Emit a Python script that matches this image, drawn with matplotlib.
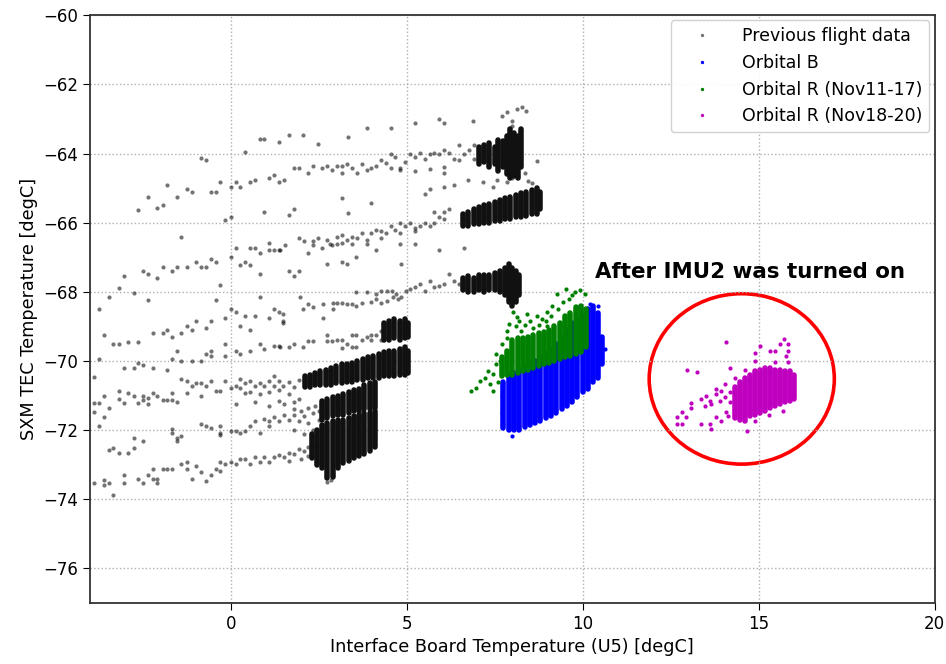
import numpy as np
import matplotlib.pyplot as plt
from matplotlib.patches import Ellipse

# ---- previous flight data: scattered readings (x = U5 temp, y = TEC temp)
prev_top = [
    (-2.63, -65.63), (-2.36, -65.25), (-2.08, -65.57), (-1.93, -65.5), (-1.80, -64.9),
    (-1.53, -65.25), (-1.40, -66.4), (-1.25, -65.03), (-1.11, -65.1), (-0.85, -64.14),
    (-0.70, -64.2), (-0.56, -65.1), (-0.43, -65.1), (-0.29, -64.83), (-0.15, -65.91),
    (0.0, -65.85), (0.0, -64.98), (0.14, -64.83), (0.27, -64.98), (0.40, -63.95),
    (0.55, -64.83), (0.69, -64.76), (0.82, -63.59), (0.95, -63.59), (0.95, -65.7),
    (1.09, -64.70), (1.23, -64.63), (1.37, -64.83), (1.51, -64.76), (1.37, -63.67),
    (1.66, -63.45), (2.05, -63.45), (2.47, -63.72), (3.32, -63.53), (3.86, -63.26),
    (4.55, -63.26), (5.24, -63.12), (5.93, -62.99), (6.07, -63.12), (6.89, -63.06),
    (7.72, -62.92), (7.86, -62.79), (8.14, -62.71), (8.27, -62.64), (8.40, -62.77),
    (8.0, -63.06), (8.0, -63.19),
    (1.80, -64.41), (1.94, -64.41), (2.20, -64.55), (2.34, -64.35), (2.60, -64.41),
    (2.75, -64.35), (2.89, -64.49), (3.02, -64.35), (3.16, -64.35), (3.16, -64.55),
    (3.30, -64.30), (3.45, -64.41), (3.58, -64.55), (3.72, -64.30), (3.86, -64.48),
    (4.0, -64.41), (4.13, -64.35), (4.27, -64.2), (4.40, -64.28), (4.55, -64.41),
    (4.55, -64.0), (4.68, -64.1), (4.82, -64.41), (4.82, -64.48), (4.95, -64.25),
    (5.10, -64.0), (5.24, -64.1), (5.24, -64.5), (5.37, -63.98), (5.51, -64.15),
    (5.65, -64.45), (5.65, -64.0), (5.79, -63.98), (5.93, -64.0), (6.07, -63.9),
    (6.07, -64.4), (6.07, -64.55), (6.20, -63.98), (6.34, -64.15), (6.48, -63.75),
    (6.48, -64.2), (6.62, -64.0), (6.76, -63.9), (6.90, -63.75), (6.90, -64.15),
    (3.15, -65.3), (4.0, -65.44), (3.32, -65.71), (1.66, -65.77), (1.80, -65.6),
    (5.52, -65.17), (5.65, -65.03), (6.07, -64.98), (6.34, -64.9), (6.75, -64.76),
    (7.17, -64.83), (7.44, -64.98), (7.58, -64.76), (7.86, -64.83), (7.99, -64.7),
    (8.69, -64.23), (8.35, -64.55), (8.55, -64.85), (8.45, -64.8),
]

prev_mid = [
    (-3.74, -68.5), (-3.47, -68.16), (-3.18, -67.9), (-3.04, -67.54), (-2.76, -68.04),
    (-2.49, -67.41), (-2.36, -67.48), (-2.36, -68.23), (-2.08, -67.61), (-1.93, -67.28),
    (-1.66, -67.41), (-1.53, -67.28), (-1.25, -67.28), (-0.98, -67.14), (-0.85, -67.28),
    (-0.70, -67.28), (-0.56, -67.06), (-0.42, -67.14), (-0.29, -67.81), (-0.42, -68.23),
    (0.0, -67.0), (0.14, -66.73), (0.27, -67.21), (0.40, -67.14), (0.55, -67.21),
    (0.69, -66.73), (0.82, -66.87), (0.82, -67.48), (1.09, -66.60), (1.09, -66.8),
    (1.23, -66.8), (1.37, -66.8), (0.82, -68.16), (0.55, -66.72),
    (1.53, -66.64), (1.94, -66.43), (2.07, -66.52), (2.34, -66.52), (2.34, -66.64),
    (2.48, -66.43), (2.6, -66.72), (2.75, -66.5), (2.89, -66.65), (3.02, -66.4),
    (3.16, -66.6), (3.16, -66.35), (3.30, -66.5), (3.45, -66.4), (3.58, -66.45),
    (3.72, -66.3), (3.86, -66.5), (4.0, -66.3), (4.13, -66.2), (4.27, -66.25),
    (4.27, -66.45), (4.40, -66.3), (4.55, -66.1), (4.68, -66.2), (4.82, -66.3),
    (4.82, -66.0), (4.95, -66.1), (5.10, -66.0), (5.24, -66.25), (5.24, -66.15),
    (5.37, -66.1), (5.51, -66.0), (5.65, -66.1), (5.79, -66.0), (5.79, -65.7),
    (5.93, -65.85), (6.07, -65.9), (6.07, -65.7), (6.2, -65.6),
    (1.40, -66.79), (1.66, -67.41), (1.80, -67.54), (1.94, -67.41), (2.20, -66.87),
    (2.75, -67.2), (3.17, -67.13), (3.30, -67.2), (3.57, -67.0), (4.12, -66.79),
    (4.83, -67.2), (2.82, -66.61), (3.03, -66.61), (3.44, -66.61), (3.86, -66.61),
    (4.81, -66.61), (5.24, -66.61), (5.93, -66.79), (6.62, -66.72),
    # band near -68 / -69
    (-3.74, -69.93), (-3.6, -69.25), (-3.33, -69.52), (-3.18, -69.52), (-2.91, -69.44),
    (-2.64, -69.44), (-3.04, -70.2), (-2.76, -70.2), (-2.63, -70.07), (-2.49, -70.13),
    (-2.21, -70.2), (-1.8, -70.26), (-2.21, -69.18), (-1.93, -69.18), (-1.8, -69.11),
    (-1.66, -69.31), (-1.4, -69.18), (-1.25, -68.98), (-1.11, -69.11), (-0.98, -68.84),
    (-0.70, -69.05), (-0.56, -68.84), (-0.15, -68.77), (0.0, -68.5), (0.14, -68.57),
    (0.27, -68.98), (0.40, -68.7), (0.55, -69.11), (0.69, -68.7), (1.09, -68.77),
    (1.23, -68.5), (1.37, -68.57), (1.49, -68.84), (1.49, -68.65), (1.49, -68.89),
    (3.57, -68.02), (3.86, -68.02), (4.14, -68.07), (4.28, -67.97), (4.43, -67.97),
    (4.57, -67.97), (4.69, -68.07), (4.83, -68.16), (4.97, -67.97), (5.10, -67.92),
    (5.24, -67.87), (5.38, -67.78), (5.52, -67.97), (5.65, -67.68), (5.79, -67.87),
    (5.92, -67.83), (6.07, -67.78), (6.21, -67.49), (6.34, -67.68), (6.48, -67.78),
    (1.97, -68.16), (2.20, -68.36), (2.34, -68.45), (2.06, -68.5), (2.61, -68.36),
    (2.61, -68.77), (2.91, -68.31), (3.03, -68.31), (3.17, -68.31), (2.91, -68.5),
    (3.30, -68.36), (3.44, -68.36), (3.57, -68.41), (3.72, -68.31), (4.0, -68.29),
    (4.14, -68.21), (4.28, -68.31), (4.43, -68.26), (4.62, -68.16), (4.76, -68.21),
    (-1.66, -69.93), (-1.53, -69.72), (-1.40, -70.0), (-1.11, -70.0), (-0.85, -70.0),
    (-0.7, -69.79), (-0.56, -69.72), (-0.56, -69.86), (-0.15, -69.86), (-0.15, -69.52),
    (0.14, -69.72), (0.27, -69.79), (0.55, -69.72), (0.82, -69.52), (0.95, -69.65),
    (1.23, -69.58), (1.37, -69.58), (1.40, -69.61), (1.66, -69.61), (1.80, -69.52),
    (2.06, -69.59), (2.20, -69.42), (2.34, -69.42), (2.75, -69.26), (2.75, -69.42),
    (2.89, -69.42), (3.03, -69.39), (3.17, -69.39), (3.17, -69.64), (3.30, -69.52),
    (3.44, -69.59), (3.44, -69.26), (3.57, -69.59), (3.57, -69.26), (3.72, -69.39),
    (3.86, -69.32), (4.0, -69.39), (4.0, -69.26), (4.14, -69.26), (4.27, -69.13),
    (4.27, -69.39),
]

prev_low = [
    (-3.87, -70.46), (-3.74, -71.21), (-3.87, -71.21), (-3.6, -71.0), (-3.46, -71.35),
    (-3.18, -70.87), (-3.18, -71.11), (-3.04, -71.21), (-2.91, -70.94), (-2.76, -71.0),
    (-2.63, -71.21), (-2.49, -71.0), (-2.49, -71.14), (-2.36, -71.07), (-2.36, -71.25),
    (-2.21, -70.94), (-2.08, -71.0), (-1.93, -71.14), (-1.8, -71.14),
    (-1.66, -70.93), (-1.66, -71.13), (-1.53, -71.2), (-1.40, -70.52), (-1.25, -70.57),
    (-1.25, -70.93), (-1.11, -70.72), (-0.98, -70.65), (-0.85, -70.65), (-0.85, -71.0),
    (-0.70, -70.72), (-0.56, -70.59), (-0.42, -70.86), (-0.29, -70.86), (-0.15, -70.59),
    (0.0, -70.79), (0.14, -70.72), (0.27, -70.52), (0.27, -70.79), (0.40, -70.65),
    (0.40, -70.93), (0.55, -70.59), (0.69, -70.72), (0.82, -70.65), (0.95, -70.72),
    (1.09, -70.59), (1.23, -70.72), (1.23, -70.43), (1.37, -70.59), (1.49, -70.72),
    (0.14, -71.25), (0.69, -71.2), (1.09, -71.3), (1.37, -71.15), (1.51, -71.25),
    (0.55, -70.9), (0.82, -70.95), (1.09, -70.9), (1.37, -70.85), (1.66, -70.6),
    (1.8, -70.75), (1.94, -70.55), (1.66, -70.95), (1.94, -71.1), (1.8, -71.2),
    (-3.46, -72.58), (-3.33, -72.51), (-3.18, -72.65), (-2.91, -72.65), (-2.76, -72.51),
    (-2.76, -72.24), (-2.49, -72.32), (-3.74, -71.89), (-3.87, -71.49), (-3.6, -71.61),
    (-1.66, -71.96), (-1.66, -72.09), (-1.53, -72.24), (-1.53, -72.32), (-1.40, -72.16),
    (-0.85, -71.83), (-0.70, -71.89), (-0.56, -71.95), (-0.29, -71.89), (-0.29, -72.09),
    (-0.29, -72.15), (0.0, -72.02), (0.14, -72.02), (0.27, -72.09), (0.40, -72.02),
    (0.55, -71.89), (0.69, -71.75), (0.82, -72.09), (0.95, -71.68), (1.09, -71.89),
    (1.09, -71.75), (1.23, -71.61), (1.37, -71.75), (1.51, -71.55),
    (1.66, -71.7), (1.8, -71.55), (1.94, -71.75), (2.07, -71.6), (2.2, -71.8),
    (2.34, -71.5), (2.5, -71.7), (2.6, -71.55), (1.8, -72.0), (2.07, -72.1), (2.34, -72.0),
    (1.8, -71.4), (2.0, -71.45), (2.2, -71.35), (2.4, -71.3), (2.5, -71.45),
    (-3.87, -73.52), (-3.6, -73.45), (-3.6, -73.58), (-3.46, -73.52), (-3.33, -73.88),
    (-3.04, -73.31), (-3.04, -73.52), (-2.63, -73.41), (-2.49, -73.52), (-2.36, -73.31),
    (-2.21, -73.12), (-2.21, -73.41), (-2.08, -73.41), (-2.08, -73.52), (-1.93, -73.12),
    (-1.8, -73.12), (-1.66, -73.12), (-1.40, -72.99), (-1.25, -72.92), (-1.25, -73.12),
    (-1.11, -73.41), (-0.98, -73.05), (-0.85, -73.21), (-0.70, -73.48), (-0.56, -73.31),
    (-0.42, -73.12), (-0.29, -72.92), (-0.29, -73.19), (-0.15, -72.99), (0.0, -72.92),
    (0.14, -72.99), (0.27, -72.85), (0.40, -72.85), (0.55, -72.99), (0.69, -72.79),
    (0.82, -72.92), (0.95, -72.79), (1.09, -72.92), (1.23, -72.79), (1.37, -72.72),
    (1.51, -72.79), (1.66, -72.65), (1.8, -72.7), (1.94, -72.55), (2.07, -72.6),
    (2.2, -72.5), (2.34, -72.45), (1.66, -72.9), (2.0, -72.85), (2.2, -72.75),
    (2.75, -73.5), (2.85, -73.45),
]

# dense vertical streaks of previous data: x, upper and lower y
prev_col_x = [7.05, 7.2, 7.35, 7.5, 7.6, 7.75, 7.85, 7.95, 8.05, 8.15, 8.25,
              6.6, 6.75, 6.9, 7.05, 7.2, 7.35, 7.5, 7.65, 7.8, 7.95, 8.1, 8.25, 8.4, 8.55, 8.7, 8.8,
              6.6, 6.75, 6.9, 7.05, 7.2, 7.35, 7.5, 7.65, 7.8, 7.9, 8.0, 8.1, 8.2,
              4.35, 4.5, 4.65, 4.8, 4.95, 5.05,
              2.1, 2.25, 2.4, 2.55, 2.7, 2.85, 3.0, 3.15, 3.3, 3.45, 3.6, 3.75, 3.9, 4.05,
              4.2, 4.35, 4.5, 4.65, 4.8, 4.95, 5.05,
              2.6, 2.75, 2.9, 3.05, 3.2, 3.35, 3.5, 3.65, 3.8, 3.95, 4.1,
              2.3, 2.45, 2.6, 2.75, 2.9, 3.05, 3.2, 3.35, 3.5, 3.65, 3.8, 3.95, 4.1]
prev_col_hi = [-63.8, -63.75, -63.7, -63.8, -63.6, -63.65, -63.5, -63.3, -63.4, -63.5, -63.3,
               -65.75, -65.7, -65.6, -65.55, -65.5, -65.45, -65.4, -65.35, -65.3, -65.25, -65.2,
               -65.15, -65.1, -65.05, -65.0, -65.1,
               -67.6, -67.55, -67.6, -67.5, -67.5, -67.5, -67.45, -67.4, -67.3, -67.2, -67.3,
               -67.4, -67.5,
               -68.9, -68.85, -68.8, -68.85, -68.8, -68.9,
               -70.45, -70.4, -70.35, -70.3, -70.25, -70.2, -70.15, -70.1, -70.1, -70.05, -70.0,
               -69.95, -69.9, -69.85, -69.8, -69.75, -69.7, -69.7, -69.65, -69.6, -69.7,
               -71.15, -71.1, -71.05, -71.0, -70.95, -70.9, -70.85, -70.8, -70.7, -70.65, -70.6,
               -72.1, -72.0, -71.85, -71.8, -71.75, -71.7, -71.7, -71.65, -71.6, -71.55, -71.5,
               -71.5, -71.45]
prev_col_lo = [-64.3, -64.25, -64.4, -64.3, -64.5, -64.4, -64.6, -64.7, -64.65, -64.7, -64.4,
               -66.1, -66.1, -66.05, -66.05, -66.0, -66.0, -65.95, -65.95, -65.9, -65.9, -65.85,
               -65.85, -65.8, -65.75, -65.75, -65.6,
               -67.95, -68.0, -68.0, -67.95, -68.0, -67.95, -67.95, -68.0, -68.1, -68.3, -68.4,
               -68.3, -68.1,
               -69.4, -69.4, -69.35, -69.4, -69.35, -69.3,
               -70.75, -70.75, -70.7, -70.7, -70.7, -70.7, -70.65, -70.65, -70.6, -70.6, -70.55,
               -70.55, -70.5, -70.5, -70.5, -70.45, -70.45, -70.45, -70.4, -70.4, -70.35,
               -71.7, -71.65, -71.6, -71.55, -71.55, -71.5, -71.45, -71.45, -71.4, -71.4, -71.35,
               -72.8, -73.0, -73.1, -73.4, -73.35, -73.1, -72.95, -72.9, -72.8, -72.75, -72.7,
               -72.6, -72.5]

# ---- Orbital B
orb_b_pts = [(7.98, -72.17), (10.63, -69.65), (10.2, -68.35), (9.9, -68.45), (10.45, -68.4),
             (7.7, -71.5), (7.7, -71.0)]
orb_b_col_x = [7.75, 7.9, 8.05, 8.2, 8.35, 8.5, 8.65, 8.8, 8.95, 9.1, 9.25, 9.4, 9.55,
               9.7, 9.85, 10.0, 10.15, 10.3, 10.45, 10.55]
orb_b_col_hi = [-70.6, -70.45, -70.35, -70.3, -70.2, -70.1, -70.0, -69.9, -69.8, -69.65,
                -69.5, -69.3, -69.1, -68.9, -68.8, -68.7, -68.5, -68.4, -68.6, -69.3]
orb_b_col_lo = [-71.95, -72.0, -72.0, -72.0, -71.9, -71.85, -71.8, -71.75, -71.65, -71.6,
                -71.5, -71.4, -71.3, -71.2, -71.05, -70.9, -70.8, -70.6, -70.5, -70.1]

# ---- Orbital R (Nov11-17)
orb_r1_pts = [
    (6.84, -70.87), (6.98, -70.77), (7.07, -70.57), (7.22, -70.48), (7.36, -70.67),
    (7.46, -70.38), (7.55, -69.8), (7.55, -70.09), (7.65, -69.99), (7.46, -70.86),
    (7.84, -69.12), (8.03, -68.59), (8.13, -68.74), (8.41, -68.65), (8.5, -68.84),
    (8.69, -68.69), (8.84, -68.79), (8.98, -68.59), (9.12, -68.4), (9.26, -68.06),
    (9.52, -67.91), (9.78, -68.01), (9.92, -67.96), (10.06, -68.06), (8.26, -69.12),
    (7.92, -68.93), (7.6, -70.6), (7.3, -70.3), (7.7, -69.5), (7.85, -69.35),
    (8.1, -69.0), (8.35, -68.95), (8.6, -69.05), (8.75, -68.95), (8.95, -68.85),
    (9.1, -68.7), (9.3, -68.5), (9.45, -68.3), (9.6, -68.2), (9.7, -68.1),
    (8.2, -68.85), (9.0, -69.0),
]
orb_r1_col_x = [7.7, 7.85, 8.0, 8.15, 8.3, 8.45, 8.6, 8.75, 8.9, 9.05, 9.2, 9.35, 9.5,
                9.65, 9.8, 9.95, 10.1]
orb_r1_col_hi = [-69.9, -69.7, -69.4, -69.35, -69.35, -69.3, -69.25, -69.2, -69.15,
                 -69.1, -69.0, -68.9, -68.7, -68.6, -68.45, -68.4, -68.5]
orb_r1_col_lo = [-70.45, -70.4, -70.4, -70.35, -70.3, -70.25, -70.2, -70.15, -70.1,
                 -70.05, -70.0, -69.95, -69.9, -69.85, -69.8, -69.75, -69.6]

# ---- Orbital R (Nov18-20)
orb_r2_pts = [
    (14.07, -69.44), (12.97, -70.26), (13.25, -70.33), (12.67, -71.61), (12.81, -71.49),
    (12.95, -71.61), (12.67, -71.83), (12.81, -71.83), (13.09, -71.23), (13.09, -71.35),
    (13.37, -71.83), (13.61, -71.83), (13.66, -71.97), (13.37, -71.1), (13.51, -71.0),
    (13.61, -71.15), (13.47, -71.3), (13.66, -71.25), (13.8, -70.81), (13.8, -70.96),
    (13.94, -70.86), (13.9, -71.15), (14.04, -70.68), (13.8, -71.63), (13.94, -71.73),
    (14.08, -71.49), (14.13, -71.59), (14.19, -70.19), (14.33, -70.48), (14.62, -70.27),
    (14.66, -72.02), (14.9, -69.78), (14.9, -69.99), (15.04, -69.56), (15.32, -69.7),
    (15.46, -69.7), (15.46, -70.04), (15.6, -69.51), (15.72, -69.36), (15.84, -69.51),
    (15.84, -69.7), (15.84, -70.04), (15.79, -69.85), (14.19, -70.9), (14.19, -71.2),
    (14.05, -71.05), (15.7, -71.45), (15.3, -71.55), (14.9, -71.75),
]
orb_r2_col_x = [14.32, 14.47, 14.61, 14.75, 14.9, 15.04, 15.18, 15.32, 15.46, 15.6,
                15.74, 15.88, 16.0]
orb_r2_col_hi = [-70.75, -70.6, -70.5, -70.4, -70.3, -70.25, -70.2, -70.2, -70.25,
                 -70.25, -70.3, -70.3, -70.4]
orb_r2_col_lo = [-71.65, -71.7, -71.75, -71.6, -71.55, -71.5, -71.45, -71.35, -71.3,
                 -71.25, -71.2, -71.15, -71.1]

fig = plt.figure(figsize=(9.46, 6.64), dpi=100)
ax = fig.add_axes([0.095, 0.092, 0.893, 0.885])

col_lw = 4.0
ms = 3.0


def draw(pts, cx, chi, clo, color, col_color, label, alpha_pts):
    p = np.array(pts)
    ax.plot(p[:, 0], p[:, 1], "o", ms=ms, mew=0, color=color, alpha=alpha_pts,
            label=label)
    ax.vlines(cx, clo, chi, colors=col_color, linewidth=col_lw, capstyle="round")


draw(prev_top + prev_mid + prev_low, prev_col_x, prev_col_hi, prev_col_lo,
     "k", "#111111", "Previous flight data", 0.55)
draw(orb_b_pts, orb_b_col_x, orb_b_col_hi, orb_b_col_lo, "b", "b", "Orbital B", 1)
draw(orb_r1_pts, orb_r1_col_x, orb_r1_col_hi, orb_r1_col_lo, "g", "g",
     "Orbital R (Nov11-17)", 1)
draw(orb_r2_pts, orb_r2_col_x, orb_r2_col_hi, orb_r2_col_lo, "m", "m",
     "Orbital R (Nov18-20)", 1)

ax.add_patch(Ellipse((14.52, -70.52), 5.26, 4.93, fill=False, edgecolor="red",
                     linewidth=2.6))
ax.text(10.35, -67.6, "After IMU2 was turned on", fontsize=15.4, fontweight="bold")

ax.set_xlim(-4, 20)
ax.set_ylim(-77, -60)
ax.set_xticks([0, 5, 10, 15, 20])
ax.set_yticks(np.arange(-76, -59, 2))
ax.grid(True, linestyle=":", color="#b0b0b0", linewidth=1)
ax.tick_params(labelsize=12, direction="out", length=5)
for s in ax.spines.values():
    s.set_linewidth(1.3)
    s.set_color("#333333")
ax.set_xlabel("Interface Board Temperature (U5) [degC]", fontsize=12.7)
ax.set_ylabel("SXM TEC Temperature [degC]", fontsize=12.7)
ax.legend(loc="upper right", fontsize=12.5, markerscale=0.8, framealpha=0.9,
          borderaxespad=0.3, handlelength=2.8, handletextpad=0.9)

fig.savefig("out.png", dpi=100)
